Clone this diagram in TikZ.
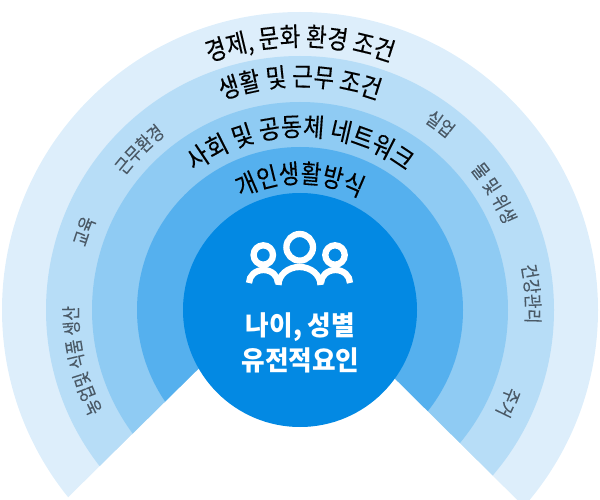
\documentclass[tikz,border=0pt]{standalone}
\usepackage{fontspec}
\usetikzlibrary{decorations.text}
\newfontfamily\krbig[FakeStretch=0.86,FakeBold=0.2]{Noto Sans CJK KR}
\newfontfamily\krwide[FakeStretch=0.885,FakeBold=0.2]{Noto Sans CJK KR}
\newfontfamily\krsmall[FakeStretch=0.83,FakeBold=0.1]{Noto Sans CJK KR}
\newfontfamily\krcore[FakeStretch=0.95]{Noto Sans CJK KR}
\definecolor{ringA}{HTML}{DDEEFB}
\definecolor{ringB}{HTML}{B7DDF7}
\definecolor{ringC}{HTML}{8FCBF3}
\definecolor{ringD}{HTML}{55B0EE}
\definecolor{core}{HTML}{0389E3}
\definecolor{smalltxt}{HTML}{4A5966}
\newcommand{\curved}[5]{% radius, start angle, end angle, font cmd, text
  \path[decorate,decoration={text along path,text align=center,text={|#4|#5}}]
    ([shift={(#2:#1 and #1)}]300,310) arc[start angle=#2,end angle=#3,radius=#1];
}
\newcommand{\bigf}{\krbig\fontsize{26}{26}\selectfont\color{black}}
\newcommand{\widef}{\krwide\fontsize{26}{26}\selectfont\color{black}}
\newcommand{\smallf}{\krsmall\fontsize{19}{19}\selectfont\color{smalltxt}}
\tikzset{x=1pt,y=-1pt,
  person/.style={draw=white,line width=6.3pt,fill=none},
}
\begin{document}
\begin{tikzpicture}
\useasboundingbox (0,0) rectangle (600,500);
\begin{scope}
\clip (0,0) rectangle (600,500);
\fill[ringA] (300,310) circle[radius=298];
\fill[ringB] (300,310) circle[radius=254];
\fill[ringC] (300,310) circle[radius=208];
\fill[ringD] (300,310) circle[radius=163];
\fill[white] (292,277) -- (-28,592) -- (610,592) -- cycle;
\fill[core] (300,310) circle[radius=117];
\end{scope}
\curved{264}{-135}{-45}{\bigf}{경제, 문화 환경 조건}
\curved{224}{-135}{-45}{\bigf}{생활 및 근무 조건}
\curved{174}{-140}{-40}{\widef}{사회 및 공동체 네트워크}
\curved{127}{-135}{-45}{\bigf}{개인생활방식}
\curved{221}{-155}{-115}{\smallf}{근무환경}
\curved{223}{-175}{-145}{\smallf}{교육}
\curved{222}{-218}{-168}{\smallf}{농업및 식품 생산}
\curved{226}{-68}{-38}{\smallf}{실업}
\curved{221}{-51}{-11}{\smallf}{물 및 위생}
\curved{226}{-24}{16}{\smallf}{건강관리}
\curved{221}{9}{39}{\smallf}{주거}
% icon
\draw[person] (299.7,247.3) circle[radius=13.3];
\draw[person] (263.3,255) circle[radius=9.7];
\draw[person] (335,255) circle[radius=9.7];
\draw[person] (249,283) arc[start angle=180,end angle=360,x radius=14.5,y radius=13];
\draw[person] (321,283) arc[start angle=180,end angle=360,x radius=14.5,y radius=13];
\draw[person] (278.5,285) arc[start angle=180,end angle=360,x radius=21,y radius=18];
\node[font=\krcore\fontsize{27}{35}\selectfont\bfseries,text=white,align=center,inner sep=0pt] (corelabel) at (300.5,343) {나이, 성별\\유전적요인};
\end{tikzpicture}
\end{document}
